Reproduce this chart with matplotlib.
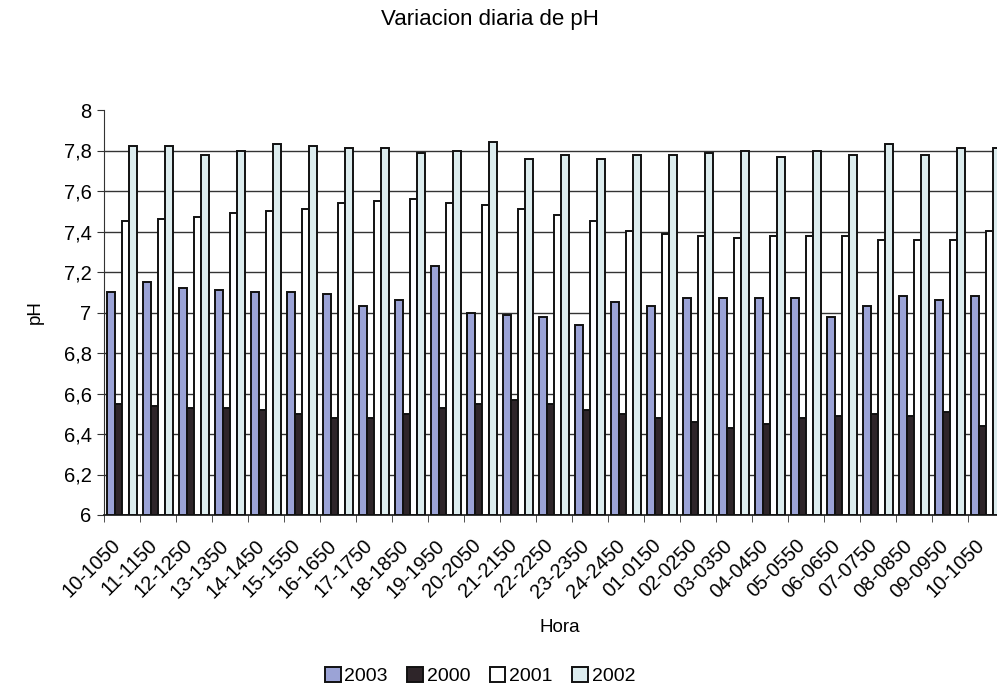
import matplotlib
matplotlib.use("Agg")
import matplotlib.pyplot as plt
import numpy as np

categories = ["10-1050", "11-1150", "12-1250", "13-1350", "14-1450", "15-1550",
              "16-1650", "17-1750", "18-1850", "19-1950", "20-2050", "21-2150",
              "22-2250", "23-2350", "24-2450", "01-0150", "02-0250", "03-0350",
              "04-0450", "05-0550", "06-0650", "07-0750", "08-0850", "09-0950",
              "10-1050"]

ph_2003 = [7.10, 7.15, 7.12, 7.11, 7.10, 7.10, 7.09, 7.03, 7.06, 7.23, 7.00, 6.99,
           6.98, 6.94, 7.05, 7.03, 7.07, 7.07, 7.07, 7.07, 6.98, 7.03, 7.08, 7.06, 7.08]
ph_2000 = [6.55, 6.54, 6.53, 6.53, 6.52, 6.50, 6.48, 6.48, 6.50, 6.53, 6.55, 6.57,
           6.55, 6.52, 6.50, 6.48, 6.46, 6.43, 6.45, 6.48, 6.49, 6.50, 6.49, 6.51, 6.44]
ph_2001 = [7.45, 7.46, 7.47, 7.49, 7.50, 7.51, 7.54, 7.55, 7.56, 7.54, 7.53, 7.51,
           7.48, 7.45, 7.40, 7.39, 7.38, 7.37, 7.38, 7.38, 7.38, 7.36, 7.36, 7.36, 7.40]
ph_2002 = [7.82, 7.82, 7.78, 7.80, 7.83, 7.82, 7.81, 7.81, 7.79, 7.80, 7.84, 7.76,
           7.78, 7.76, 7.78, 7.78, 7.79, 7.80, 7.77, 7.80, 7.78, 7.83, 7.78, 7.81, 7.81]

series = [("2003", ph_2003, "#9ba3d6"),
          ("2000", ph_2000, "#2e2529"),
          ("2001", ph_2001, "#ffffff"),
          ("2002", ph_2002, "#dcecee")]

W, H = 997, 688
fig = plt.figure(figsize=(W / 100, H / 100), dpi=100)
plt.rcParams['font.family'] = ['Liberation Sans', 'DejaVu Sans']

left = 104 / W
bottom = (H - 515) / H
top = (H - 110) / H
right = 1004 / W
ax = fig.add_axes([left, bottom, right - left, top - bottom])

x = np.arange(len(categories))
bw = 0.208
base = 6.0
for k, (name, vals, col) in enumerate(series):
    heights = np.array(vals) - base
    ax.bar(x + (k - 1.5) * bw, heights, width=bw, bottom=base, color=col,
           edgecolor="#111111", linewidth=1.4, label=name, zorder=3)

ax.set_xlim(-0.5, len(categories) - 0.5)
ax.set_ylim(6, 8)
yt = np.round(np.arange(6, 8.01, 0.2), 1)
ax.set_yticks(yt)
ax.set_yticklabels([("%g" % v).replace(".", ",") for v in yt], fontsize=14.5)
for v in yt[1:-1]:
    ax.axhline(v, color="#333333", linewidth=1.0, zorder=1)

# label anchors placed slightly left of group centres (text placement only)
ax.set_xticks(x - 0.3)
ax.set_xticklabels(categories, rotation=45, ha="right", rotation_mode="anchor",
                   fontsize=14.5)
ax.set_xticks(np.arange(-0.5, len(categories), 1), minor=True)
ax.tick_params(axis="x", which="major", length=0, pad=15)
ax.tick_params(axis="x", which="minor", length=5, color="#333333")
ax.tick_params(axis="y", length=5, color="#333333", pad=4)

for s in ["top", "right"]:
    ax.spines[s].set_visible(False)
ax.spines["left"].set_color("#333333")
ax.spines["bottom"].set_color("#222222")
ax.spines["bottom"].set_linewidth(1.3)

fig.text(490 / W, 1 - 20 / H, "Variacion diaria de pH", ha="center", va="center",
         fontsize=16)
fig.text(35 / W, 1 - 312 / H, "pH", ha="center", va="center", rotation=90,
         fontsize=13.5)
fig.text(560 / W, 1 - 628 / H, "Hora", ha="center", va="center", fontsize=13.5)

handles, labels = ax.get_legend_handles_labels()
fig.legend(handles, labels, loc="center", bbox_to_anchor=(480 / W, 1 - 676 / H),
           ncol=4, frameon=False, fontsize=14, handlelength=0.8, handleheight=0.8,
           handletextpad=0.2, columnspacing=1.0)

fig.savefig("out.png", dpi=100)
